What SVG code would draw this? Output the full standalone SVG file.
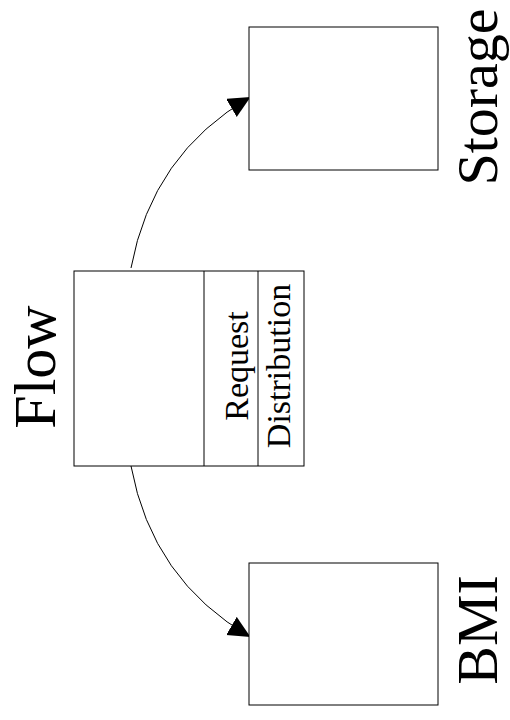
<svg xmlns="http://www.w3.org/2000/svg" width="510" height="720" viewBox="0 0 510 720">
<style>
.box{fill:#fff;stroke:#000;stroke-width:1}
.div{stroke:#000;stroke-width:1}
.big{font-family:"Liberation Serif","Times New Roman",serif;font-size:58px;fill:#000;text-anchor:middle}
.small{font-family:"Liberation Serif","Times New Roman",serif;font-size:34px;fill:#000;text-anchor:middle}
.conn{fill:none;stroke:#000;stroke-width:1}
</style>
<defs>
<marker id="arrow" markerUnits="userSpaceOnUse" markerWidth="24" markerHeight="22" refX="22" refY="10.5" orient="auto">
<path d="M0,0 L22,10.5 L0,21 z" fill="#000"/>
</marker>
</defs>
<rect width="510" height="720" fill="#fff"/>
<g id="connectors">
<path class="conn" d="M131,268 Q152,154 250.5,97" marker-end="url(#arrow)"/>
<path class="conn" d="M131,466 Q152,580 250.5,637" marker-end="url(#arrow)"/>
</g>
<g id="flow">
<rect class="box" x="74" y="271" width="230" height="195"/>
<line class="div" x1="204" y1="271" x2="204" y2="466"/>
<line class="div" x1="258" y1="271" x2="258" y2="466"/>
<text class="big" font-size="60" style="font-size:60px" transform="translate(55,367) rotate(-90)">Flow</text>
<text class="small" transform="translate(248,366) rotate(-90)">Request</text>
<text class="small" transform="translate(290,366) rotate(-90)">Distribution</text>
</g>
<g id="storage">
<rect class="box" x="249" y="27" width="189" height="143"/>
<text class="big" transform="translate(497,97) rotate(-90)">Storage</text>
</g>
<g id="bmi">
<rect class="box" x="249" y="563" width="189" height="142"/>
<text class="big" transform="translate(497,630) rotate(-90)">BMI</text>
</g>
</svg>
